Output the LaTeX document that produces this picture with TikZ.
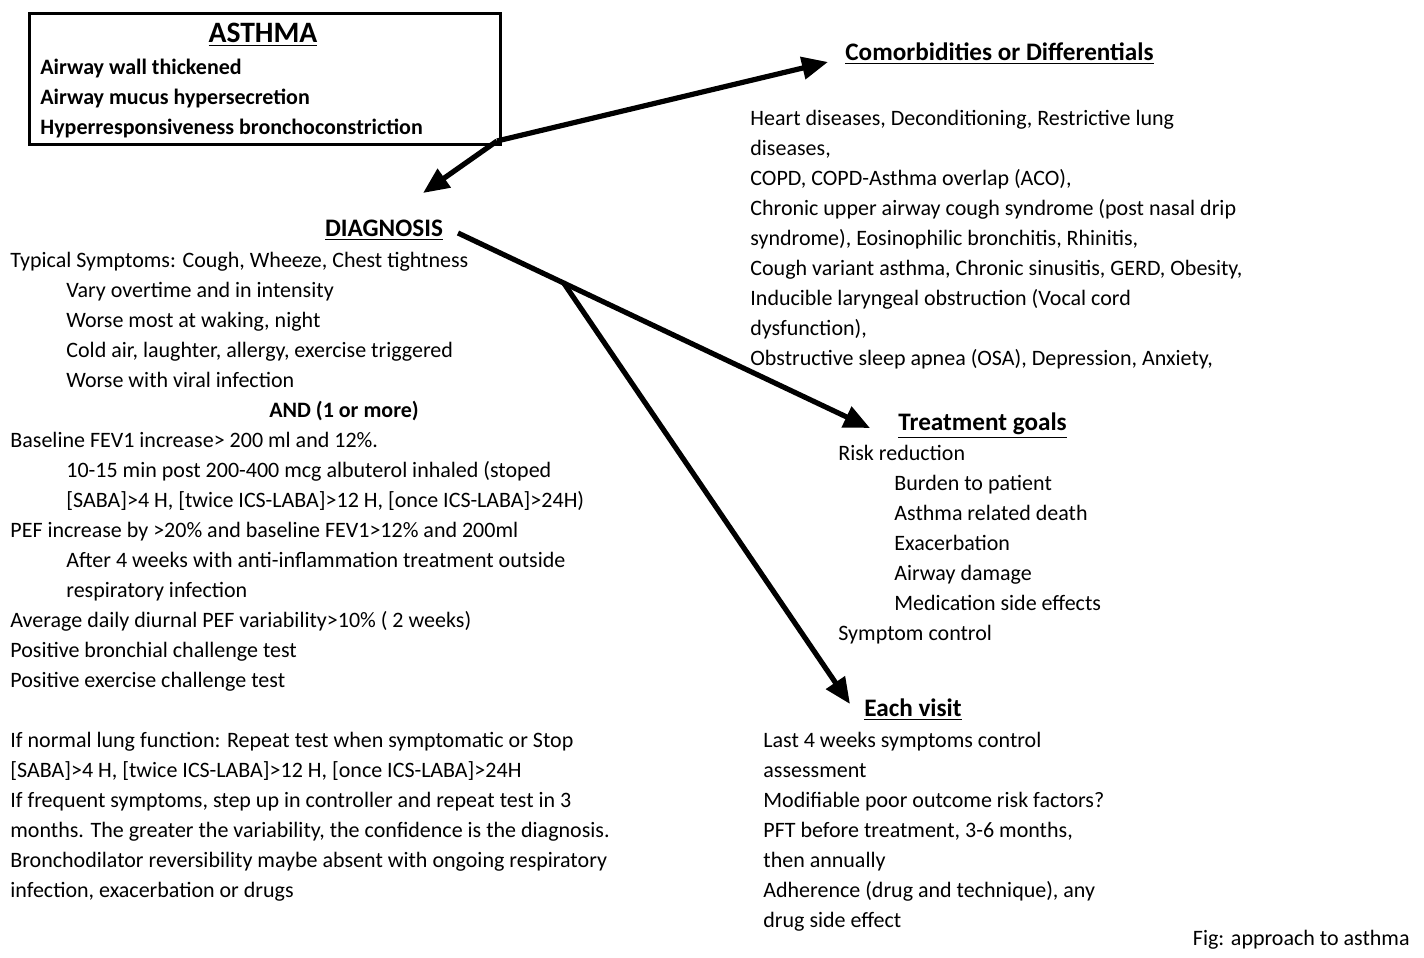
\documentclass[tikz,border=0pt]{standalone}
\usepackage{fontspec}
\setmainfont{Carlito}
\usetikzlibrary{arrows.meta}
\newcommand{\ind}{\hspace*{28pt}}
\begin{document}
\begin{tikzpicture}[x=0.5pt,y=-0.5pt,
  txt/.style={inner sep=0pt, align=left, anchor=base west, font=\fontsize{11}{15}\selectfont},
  btxt/.style={txt, font=\bfseries\fontsize{11}{15}\selectfont},
  head/.style={inner sep=0pt, font=\bfseries\fontsize{12.6}{15}\selectfont},
  arr/.style={line width=2.6pt, -{Triangle[length=13pt,width=11pt]}}]
\useasboundingbox (0,0) rectangle (1424,958);
% ASTHMA box (text nodes anchored at the baseline of their last line)
\node[draw, line width=1.6pt, minimum width=235.5pt, minimum height=65.5pt, anchor=north west, inner sep=0] (asthma) at (28,12) {};
\node[inner sep=0pt, anchor=base, font=\bfseries\fontsize{14.8}{15}\selectfont] (asthmahead) at (263,42) {\underline{ASTHMA}};
\node[btxt] (asthmatxt) at (40,134) {Airway wall thickened\\Airway mucus hypersecretion\\Hyperresponsiveness bronchoconstriction};
% Comorbidities
\node[head, anchor=base west] (comhead) at (845,60) {\underline{Comorbidities or Differentials}};
\node[txt] (comtxt) at (750,365) {Heart diseases, Deconditioning, Restrictive lung\\diseases,\\COPD, COPD-Asthma overlap (ACO),\\Chronic upper airway cough syndrome (post nasal drip\\syndrome), Eosinophilic bronchitis, Rhinitis,\\Cough variant asthma, Chronic sinusitis, GERD, Obesity,\\Inducible laryngeal obstruction (Vocal cord\\dysfunction),\\Obstructive sleep apnea (OSA), Depression, Anxiety,};
% Diagnosis
\node[head, anchor=base] (diaghead) at (384,236) {\underline{DIAGNOSIS}};
\node[txt] (diag1) at (10,387) {Typical Symptoms: Cough, Wheeze, Chest tightness\\\ind Vary overtime and in intensity\\\ind Worse most at waking, night\\\ind Cold air, laughter, allergy, exercise triggered\\\ind Worse with viral infection};
\node[btxt, anchor=base] (and) at (344,417) {AND (1 or more)};
\node[txt] (diag2) at (10,687) {Baseline FEV1 increase> 200 ml and 12\%.\\\ind 10-15 min post 200-400 mcg albuterol inhaled (stoped\\\ind [SABA]>4 H, [twice ICS-LABA]>12 H, [once ICS-LABA]>24H)\\PEF increase by >20\% and baseline FEV1>12\% and 200ml\\\ind After 4 weeks with anti-inflammation treatment outside\\\ind respiratory infection\\Average daily diurnal PEF variability>10\% ( 2 weeks)\\Positive bronchial challenge test\\Positive exercise challenge test};
\node[txt] (diag3) at (10,897) {If normal lung function: Repeat test when symptomatic or Stop\\[0pt][SABA]>4 H, [twice ICS-LABA]>12 H, [once ICS-LABA]>24H\\If frequent symptoms, step up in controller and repeat test in 3\\months. The greater the variability, the confidence is the diagnosis.\\Bronchodilator reversibility maybe absent with ongoing respiratory\\infection, exacerbation or drugs};
% Treatment goals
\node[head, anchor=base west] (treathead) at (898,430) {\underline{Treatment goals}};
\node[txt] (treattxt) at (838,640) {Risk reduction\\\ind Burden to patient\\\ind Asthma related death\\\ind Exacerbation\\\ind Airway damage\\\ind Medication side effects\\Symptom control};
% Each visit
\node[head, anchor=base west] (visithead) at (864,716) {\underline{Each visit}};
\node[txt] (visittxt) at (763,927) {Last 4 weeks symptoms control\\assessment\\Modifiable poor outcome risk factors?\\PFT before treatment, 3-6 months,\\then annually\\Adherence (drug and technique), any\\drug side effect};
% caption
\node[txt, anchor=base east] (fig) at (1410,945) {Fig: approach to asthma};
% connectors
\coordinate (corner) at (497,141);
\coordinate (comtip) at (828,62);
\coordinate (diagtip) at (423,193);
\coordinate (dstart) at (458,233);
\coordinate (treattip) at (870,428);
\coordinate (br) at (563,282);
\coordinate (visittip) at (850,704);
\draw[arr] (corner) -- (comtip);
\draw[arr] (corner) -- (diagtip);
\draw[arr] (dstart) -- (treattip);
\draw[arr] (br) -- (visittip);
\end{tikzpicture}
\end{document}
